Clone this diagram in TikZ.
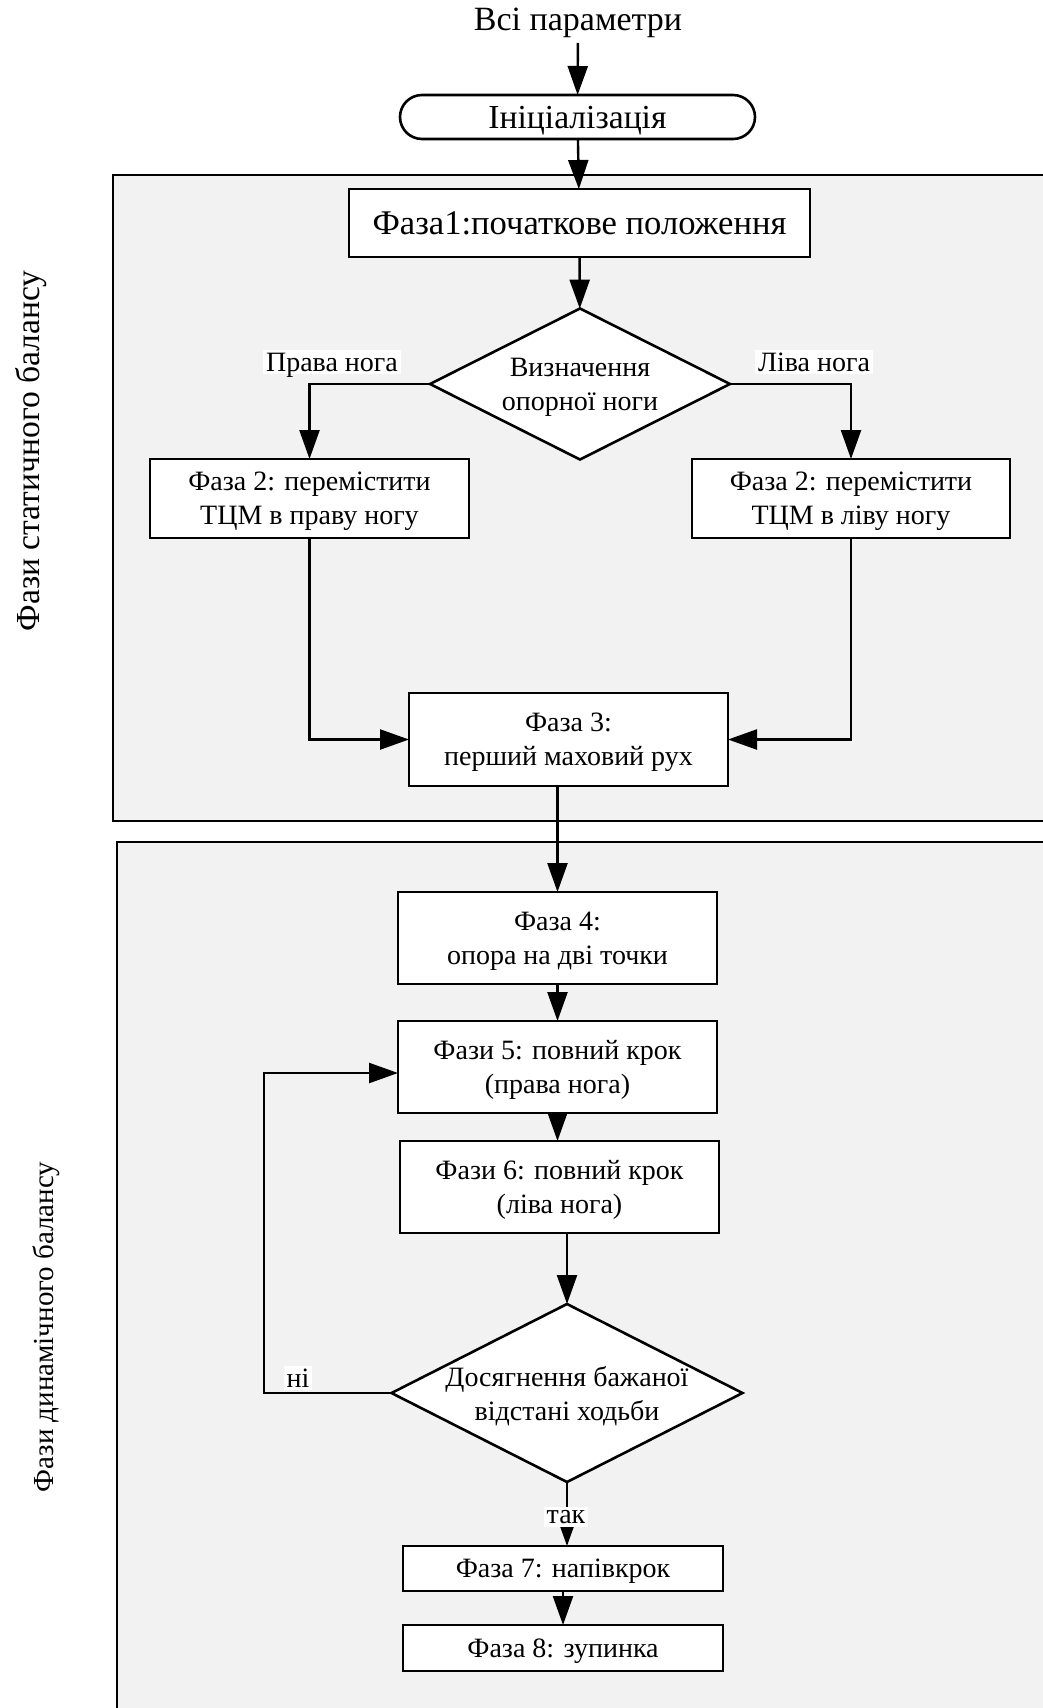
\documentclass[tikz,border=0pt]{standalone}
\usepackage{fontspec}
\setmainfont{Liberation Serif}
\usetikzlibrary{arrows.meta,shapes.geometric}
\definecolor{panelfill}{HTML}{F2F2F2}
\begin{document}
\begin{tikzpicture}[x=0.5pt,y=-0.5pt,
  every node/.style={inner sep=0pt,outer sep=0pt},
  txt/.style={font=\fontsize{14}{17}\selectfont},
  flowbox/.style={draw,line width=1.3pt,fill=white,align=center,txt,text depth=0pt},
  terminal/.style={flowbox,rounded corners=11pt},
  decision/.style={draw,diamond,line width=1.3pt,fill=white},
  inside/.style={txt,align=center,text depth=0pt},
  link/.style={line width=1.2pt,-{Triangle[length=14.5pt,width=10pt]}},
  tag/.style={fill=white,inner sep=1.5pt,txt,text depth=0pt},
  panel/.style={fill=panelfill,draw,line width=1pt}
]
\useasboundingbox (0,0) rectangle (1043,1708);
\fill[white] (0,0) rectangle (1043,1708);
\clip (0,0) rectangle (1043,1708);

% background panels for the two groups of phases
\draw[panel] (113,175) rectangle (1070,821);
\draw[panel] (117,842) rectangle (1070,1730);

\node[rotate=90,font=\fontsize{16.8}{19}\selectfont] (sidestat) at (31,451) {Фази статичного балансу};
\node[rotate=90,font=\fontsize{14.5}{17}\selectfont] (sidedyn) at (46,1327) {Фази динамічного балансу};

% nodes
\node[font=\fontsize{17}{20}\selectfont,outer ysep=2.5pt] (params) at (578,23) {Всі параметри};
\node[terminal,font=\fontsize{16.8}{19}\selectfont,minimum width=177.5pt,minimum height=22pt] (init) at (577.5,117) {Ініціалізація};
\node[flowbox,font=\fontsize{17.3}{20}\selectfont,minimum width=230.5pt,minimum height=34pt] (ph1) at (579.5,223) {Фаза1:початкове положення};
\node[decision,minimum width=150pt,minimum height=75.5pt,
  label={[inside]center:Визначення\\опорної ноги}] (dec1) at (580,384) {};
\node[flowbox,minimum width=159.5pt,minimum height=39.5pt] (ph2l) at (309.5,498.5) {Фаза 2: перемістити\\ТЦМ в праву ногу};
\node[flowbox,minimum width=159pt,minimum height=39.5pt] (ph2r) at (851,498.5) {Фаза 2: перемістити\\ТЦМ в ліву ногу};
\node[flowbox,minimum width=159.5pt,minimum height=46.5pt] (ph3) at (568.5,739.5) {Фаза 3:\\перший маховий рух};
\node[flowbox,minimum width=159.5pt,minimum height=46pt] (ph4) at (557.5,938) {Фаза 4:\\опора на дві точки};
\node[flowbox,minimum width=159.5pt,minimum height=46pt] (ph5) at (557.5,1067) {Фази 5: повний крок\\(права нога)};
\node[flowbox,minimum width=159.5pt,minimum height=46pt] (ph6) at (559.5,1187) {Фази 6: повний крок\\(ліва нога)};
\node[decision,minimum width=175.5pt,minimum height=89pt,
  label={[inside]center:Досягнення бажаної\\відстані ходьби}] (dec2) at (567,1393) {};
\node[flowbox,minimum width=160pt,minimum height=22.5pt] (ph7) at (563,1568.5) {Фаза 7: напівкрок};
\node[flowbox,minimum width=160pt,minimum height=23pt] (ph8) at (563,1648) {Фаза 8: зупинка};

\coordinate (loopcorner) at (264,1073);

% connectors
\draw[link] (params) -- (init);
\draw[link] (init) -- (ph1);
\draw[link] (ph1) -- (dec1);
\draw[link] (dec1.west) -| (ph2l.north);
\draw[link] (dec1.east) -| (ph2r.north);
\draw[link] (ph2l.south) |- (ph3.west);
\draw[link] (ph2r.south) |- (ph3.east);
\draw[link] (ph4.north |- ph3.south) -- (ph4.north);
\draw[link] (ph4) -- (ph5);
\draw[link] (ph5.south) -- (ph5.south |- ph6.north);
\draw[link] (dec2.north |- ph6.south) -- (dec2.north);
\draw[link] (dec2.west) -| (loopcorner) -- (loopcorner -| ph5.west);
\draw[link] (dec2.south) -- (dec2.south |- ph7.north);
\draw[link] (ph7) -- (ph8);

% branch labels
\node[tag] (lblright) at (332,362) {Права нога};
\node[tag] (lblleft) at (814,362) {Ліва нога};
\node[tag] (lblno) at (298,1378) {ні};
\node[tag] (lblyes) at (566,1517) {так};
\end{tikzpicture}
\end{document}
